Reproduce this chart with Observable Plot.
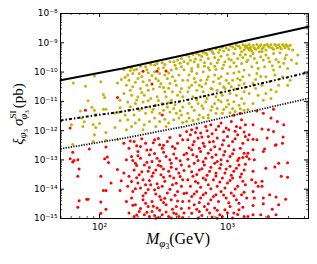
<!DOCTYPE html>
<html><head><meta charset="utf-8">
<script src="https://cdn.jsdelivr.net/npm/d3@7"></script>
<script src="https://cdn.jsdelivr.net/npm/@observablehq/plot@0.6"></script>
<style>body{margin:0;background:#fff}</style>
</head><body><div id="chart"></div>
<script>
// Points stored as [log10 M (GeV), log10 sigma (pb)]
const yellowPts = [
[1.795,-10.37],[1.89,-10.48],[1.96,-10.13],[2.01,-10.33],[2.14,-10.37],[2.17,-10.25],[2.03,-10.77],[2.04,-10.87],[2.16,-10.96],[1.91,-10.98],[2.16,-11.22],[1.94,-11.2],[1.85,-11.33],[1.96,-11.3],[2.03,-11.27],[2.05,-11.27],[1.97,-11.44],[2.15,-11.37],[2.12,-11.4],
[1.86,-11.57],[1.88,-11.7],[1.87,-11.86],[1.78,-11.8],[1.95,-11.79],[1.97,-11.89],[2.0,-11.76],[2.05,-12.06],[2.12,-11.89],[2.16,-11.65],[1.96,-12.14],[1.95,-12.37],[2.05,-12.33],[1.79,-12.47],[2.14,-12.3],
[2.19,-9.92],[2.25,-9.85],[2.27,-9.93],[2.32,-9.8],[2.36,-9.82],[2.40,-9.73],[2.43,-9.76],[2.45,-9.71],[2.49,-9.68],[2.51,-9.74],[2.55,-9.65],[2.58,-9.65],[2.61,-9.59],[2.64,-9.54],[2.66,-9.65],
[2.22,-10.1],[2.26,-10.05],[2.31,-10.05],[2.38,-10.02],[2.43,-9.99],[2.47,-10.05],[2.51,-10.1],[2.56,-9.93],[2.6,-9.88],[2.64,-9.82],[2.53,-10.22],[2.57,-10.16],[2.62,-10.1],[2.65,-10.28],
[2.23,-10.28],[2.30,-10.22],[2.34,-10.33],[2.39,-10.28],[2.44,-10.22],[2.48,-10.39],[2.55,-10.39],[2.6,-10.45],[2.64,-10.56],[2.21,-10.45],[2.26,-10.5],[2.32,-10.56],[2.38,-10.62],[2.47,-10.5],[2.51,-10.67],[2.57,-10.67],[2.61,-10.79],[2.65,-10.84],[2.19,-10.73],[2.25,-10.79],[2.3,-10.84],[2.35,-10.79],[2.4,-10.9],[2.45,-10.84],[2.52,-10.84],[2.56,-10.96],[2.62,-11.02],[2.22,-11.02],[2.28,-11.07],[2.34,-11.02],[2.39,-11.19],[2.44,-11.13],[2.49,-11.07],[2.53,-11.19],[2.58,-11.24],[2.65,-11.19],[2.23,-11.3],[2.31,-11.3],[2.36,-11.41],[2.41,-11.36],[2.47,-11.41],[2.55,-11.36],[2.6,-11.41],[2.64,-11.47],[2.27,-11.47],[2.2,-11.47],
[2.68,-9.42],[2.70,-9.48],[2.73,-9.4],[2.76,-9.37],[2.78,-9.42],[2.81,-9.32],[2.83,-9.36],[2.86,-9.25],[2.88,-9.3],[2.91,-9.2],[2.94,-9.24],[2.96,-9.15],[2.99,-9.18],[3.02,-9.1],[3.04,-9.14],[3.07,-9.08],[3.09,-9.12],[3.12,-9.07],[3.14,-9.1],
[2.69,-9.71],[2.74,-9.65],[2.79,-9.59],[2.85,-9.54],[2.9,-9.5],[2.95,-9.46],[3.0,-9.42],[3.05,-9.37],[3.11,-9.31],[3.13,-9.25],
[2.72,-9.88],[2.77,-9.82],[2.82,-9.8],[2.87,-9.71],[2.92,-9.68],[2.98,-9.65],[3.03,-9.59],[3.08,-9.54],[3.12,-9.5],
[2.7,-10.1],[2.76,-10.05],[2.81,-9.99],[2.86,-9.93],[2.91,-9.91],[2.96,-9.88],[3.02,-9.82],[3.07,-9.8],[3.11,-9.71],[3.15,-9.65],
[2.69,-10.28],[2.74,-10.22],[2.79,-10.28],[2.85,-10.16],[2.9,-10.1],[2.95,-10.16],[3.0,-10.05],[3.05,-10.03],[3.09,-9.99],[3.13,-9.93],
[2.72,-10.45],[2.78,-10.45],[2.83,-10.39],[2.89,-10.33],[2.94,-10.39],[2.99,-10.28],[3.04,-10.28],[3.08,-10.22],[3.12,-10.16],
[2.69,-10.67],[2.76,-10.62],[2.81,-10.67],[2.87,-10.56],[2.92,-10.62],[2.98,-10.56],[3.03,-10.5],[3.09,-10.45],[3.13,-10.39],
[2.73,-10.84],[2.79,-10.84],[2.85,-10.79],[2.91,-10.84],[2.96,-10.79],[3.02,-10.73],[3.07,-10.79],[3.13,-10.67],
[2.7,-11.07],[2.77,-11.07],[2.83,-11.01],[2.9,-11.07],[2.95,-11.01],[3.0,-10.96],[3.05,-11.01],[3.11,-10.9],
[2.74,-11.3],[2.81,-11.24],[2.87,-11.3],[2.92,-11.24],[2.99,-11.19],[3.04,-11.24],[3.09,-11.13],[3.13,-11.07],
[2.69,-11.41],[2.78,-11.47],[2.85,-11.47],[2.91,-11.41],[2.96,-11.41],[3.02,-11.39],[3.13,-11.3],
[3.15,-9.1],[3.17,-9.06],[3.18,-9.15],[3.2,-9.08],[3.21,-9.18],[3.23,-9.06],[3.25,-9.12],[3.26,-9.07],[3.28,-9.16],[3.29,-9.08],[3.31,-9.06],[3.32,-9.12],[3.34,-9.07],[3.35,-9.18],[3.37,-9.06],[3.38,-9.1],[3.4,-9.07],[3.41,-9.14],[3.43,-9.06],[3.44,-9.1],[3.46,-9.07],[3.47,-9.12],[3.49,-9.08],[3.22,-9.22],[3.3,-9.25],[3.36,-9.22],[3.42,-9.2],[3.19,-9.28],[3.27,-9.3],
[3.17,-9.25],[3.2,-9.37],[3.25,-9.31],[3.3,-9.42],[3.36,-9.37],[3.41,-9.34],[3.46,-9.42],[3.51,-9.25],
[3.16,-9.59],[3.21,-9.54],[3.28,-9.59],[3.33,-9.65],[3.38,-9.57],[3.45,-9.54],[3.5,-9.59],[3.55,-9.42],
[3.19,-9.82],[3.24,-9.88],[3.29,-9.82],[3.36,-9.93],[3.41,-9.82],[3.47,-9.88],[3.54,-9.71],
[3.17,-10.1],[3.23,-10.05],[3.3,-10.16],[3.37,-10.1],[3.43,-10.16],[3.49,-10.28],
[3.2,-10.39],[3.27,-10.45],[3.33,-10.33],[3.4,-10.45],[3.47,-10.45],
[3.17,-10.73],[3.24,-10.79],[3.3,-10.73],[3.38,-10.67],
[3.28,-10.96],[3.34,-10.9],[3.2,-11.07],[3.16,-11.28],
[2.21,-11.97],[2.25,-11.86],[2.28,-11.74],[2.31,-11.63],[2.35,-11.8],[2.39,-11.69],[2.43,-11.57],[2.47,-11.69],[2.51,-11.61],[2.54,-11.74],[2.58,-11.63],[2.62,-11.57],[2.65,-11.72],[2.22,-11.63],[2.34,-11.97],[2.44,-11.86],[2.52,-11.86],
[2.68,-11.69],[2.7,-11.57],[2.73,-11.65],[2.77,-11.61],[2.81,-11.55],[2.85,-11.57],
[2.2,-10.18],[2.24,-9.95],[2.29,-9.9],[2.33,-10.15],[2.37,-9.92],[2.41,-10.12],[2.46,-9.88],[2.5,-9.85],[2.54,-10.03],[2.59,-9.77],[2.63,-9.7],[2.66,-9.92],
[2.24,-10.62],[2.28,-10.35],[2.33,-10.7],[2.37,-10.45],[2.42,-10.58],[2.46,-10.3],[2.5,-10.53],[2.54,-10.55],[2.59,-10.3],[2.63,-10.68],
[2.24,-11.18],[2.29,-10.95],[2.33,-11.25],[2.38,-10.98],[2.42,-11.27],[2.46,-10.97],[2.5,-11.3],[2.54,-11.05],[2.59,-11.12],[2.63,-11.32],
[2.71,-9.6],[2.75,-9.55],[2.8,-9.47],[2.84,-9.4],[2.89,-9.37],[2.93,-9.33],[2.97,-9.28],[3.01,-9.24],[3.06,-9.2],[3.1,-9.18],[3.14,-9.16],
[2.72,-9.97],[2.77,-9.75],[2.82,-9.68],[2.85,-9.85],[2.9,-9.8],[2.93,-9.58],[2.97,-9.76],[3.01,-9.55],[3.05,-9.68],[3.1,-9.42],[3.14,-9.4],
[2.7,-10.53],[2.75,-10.35],[2.8,-10.5],[2.84,-10.25],[2.88,-10.58],[2.93,-10.22],[2.97,-10.5],[3.01,-10.38],[3.06,-10.58],[3.1,-10.27],[3.14,-10.53],
[2.72,-11.19],[2.76,-10.95],[2.8,-11.15],[2.84,-10.9],[2.88,-11.18],[2.93,-10.95],[2.97,-11.28],[3.01,-11.1],[3.06,-11.35],[3.1,-11.25],
[3.16,-9.18],[3.18,-9.22],[3.24,-9.17],[3.27,-9.2],[3.33,-9.15],[3.39,-9.18],[3.45,-9.17],[3.48,-9.2],[3.18,-9.45],[3.23,-9.68],[3.26,-9.48],[3.32,-9.52],[3.35,-9.78],[3.4,-9.66],[3.44,-9.7],[3.22,-10.25],[3.26,-10.15],[3.34,-10.6],[3.22,-10.55]
];
const redPts = [
[2.14,-10.87],[1.89,-11.3],[2.34,-9.97],[2.45,-9.97],[2.52,-9.96],[2.41,-10.41],[2.49,-11.47],[3.05,-11.47],[3.1,-11.41],[3.23,-11.33],[3.28,-11.41],[3.36,-11.27],
[1.77,-11.91],[1.79,-12.74],[1.92,-12.63],[2.05,-12.56],[1.77,-12.96],[1.8,-13.02],[1.79,-13.07],[1.83,-12.99],[2.04,-12.96],[2.06,-12.9],[2.07,-13.09],[1.84,-13.31],[2.14,-13.33],[1.83,-13.56],[2.01,-13.56],[2.17,-13.71],[2.09,-13.79],[2.03,-14.04],[2.05,-14.04],[2.16,-14.04],[1.9,-14.34],[1.91,-14.34],[1.84,-14.39],[2.01,-14.44],[1.83,-14.62],[2.05,-14.68],[2.01,-14.82],
[2.19,-12.43],[2.23,-12.6],[2.27,-12.37],[2.3,-12.71],[2.32,-12.54],[2.36,-12.43],[2.4,-12.65],[2.43,-12.31],[2.47,-12.48],[2.49,-12.6],[2.53,-12.37],[2.57,-12.54],[2.61,-12.43],[2.65,-12.31],
[2.21,-12.99],[2.25,-12.88],[2.28,-13.11],[2.32,-12.94],[2.35,-13.17],[2.39,-12.82],[2.41,-13.05],[2.45,-12.94],[2.48,-13.22],[2.52,-12.88],[2.56,-13.11],[2.6,-12.94],[2.64,-13.17],[2.66,-12.82],
[2.19,-13.45],[2.23,-13.56],[2.27,-13.34],[2.31,-13.51],[2.34,-13.68],[2.38,-13.39],[2.41,-13.56],[2.44,-13.34],[2.48,-13.51],[2.51,-13.73],[2.54,-13.39],[2.58,-13.62],[2.62,-13.45],[2.65,-13.68],
[2.22,-13.9],[2.26,-14.08],[2.3,-13.79],[2.32,-13.96],[2.36,-14.13],[2.4,-13.85],[2.43,-14.02],[2.47,-14.25],[2.49,-13.9],[2.53,-14.13],[2.57,-13.85],[2.61,-14.08],[2.64,-13.9],
[2.21,-14.42],[2.25,-14.3],[2.28,-14.53],[2.34,-14.36],[2.38,-14.59],[2.41,-14.42],[2.45,-14.64],[2.48,-14.36],[2.52,-14.53],[2.56,-14.36],[2.6,-14.59],[2.65,-14.42],
[2.23,-14.81],[2.27,-14.93],[2.31,-14.76],[2.35,-14.87],[2.39,-14.93],[2.41,-14.76],[2.44,-14.99],[2.49,-14.87],[2.54,-14.93],[2.58,-14.81],[2.62,-14.93],[2.66,-14.81],
[2.68,-12.03],[2.72,-11.97],[2.76,-11.91],[2.79,-12.08],[2.83,-11.86],[2.87,-11.8],[2.91,-11.97],[2.95,-11.74],[2.99,-11.91],[3.03,-11.69],[3.07,-11.86],[3.11,-11.63],[3.14,-11.8],
[2.69,-12.31],[2.73,-12.48],[2.77,-12.25],[2.81,-12.43],[2.85,-12.2],[2.89,-12.37],[2.92,-12.25],[2.96,-12.48],[3.0,-12.2],[3.04,-12.37],[3.08,-12.14],[3.12,-12.43],
[2.68,-12.77],[2.72,-12.65],[2.76,-12.88],[2.79,-12.71],[2.83,-12.94],[2.87,-12.65],[2.91,-12.82],[2.95,-12.99],[2.98,-12.71],[3.02,-12.88],[3.05,-12.65],[3.09,-12.94],[3.13,-12.77],
[2.7,-13.22],[2.74,-13.11],[2.78,-13.34],[2.82,-13.17],[2.86,-13.39],[2.9,-13.11],[2.94,-13.28],[2.98,-13.45],[3.02,-13.22],[3.05,-13.39],[3.09,-13.17],[3.13,-13.34],
[2.69,-13.68],[2.73,-13.56],[2.77,-13.79],[2.81,-13.62],[2.85,-13.85],[2.89,-13.68],[2.92,-13.9],[2.96,-13.62],[3.0,-13.79],[3.04,-13.62],[3.08,-13.9],[3.12,-13.73],
[2.68,-14.13],[2.72,-14.25],[2.76,-14.08],[2.79,-14.3],[2.83,-14.13],[2.87,-14.36],[2.91,-14.19],[2.95,-14.08],[2.99,-14.3],[3.03,-14.13],[3.07,-14.36],[3.11,-14.19],[3.15,-14.3],
[2.7,-14.64],[2.74,-14.53],[2.78,-14.76],[2.82,-14.59],[2.86,-14.81],[2.9,-14.64],[2.94,-14.87],[2.98,-14.7],[3.02,-14.59],[3.05,-14.81],[3.09,-14.7],[3.13,-14.93],[2.77,-14.99],[2.92,-14.99],
[3.34,-11.57],[3.39,-11.69],[3.44,-11.8],[3.2,-11.8],[3.27,-11.94],[3.32,-11.97],[3.36,-12.03],[3.17,-12.14],[3.23,-12.31],[3.2,-12.29],[3.16,-12.31],[3.31,-12.25],[3.43,-12.43],[3.38,-12.48],[3.2,-12.65],[3.28,-12.71],[3.16,-12.77],[3.29,-12.63],[3.17,-12.97],[3.21,-12.99],[3.15,-12.88],[3.4,-13.11],[3.47,-13.1],[3.3,-13.28],[3.37,-13.24],[3.2,-13.39],[3.42,-13.56],[3.47,-13.59],[3.19,-13.68],[3.27,-13.73],[3.22,-13.77],[3.24,-13.9],[3.27,-13.9],[3.2,-14.08],[3.33,-14.19],[3.21,-14.3],[3.28,-14.3],[3.38,-14.27],[3.455,-14.34],[3.35,-14.68],[3.2,-14.56],[3.28,-14.5],[3.4,-14.53],[3.2,-14.87],[3.26,-14.87],[3.32,-14.93],[3.38,-14.87],[3.16,-14.93],[3.375,-12.5],[3.435,-12.22],
[2.24,-12.35],[2.29,-12.52],[2.33,-12.28],[2.37,-12.66],[2.42,-12.41],[2.46,-12.27],[2.5,-12.5],[2.55,-12.23],[2.59,-12.61],[2.63,-12.17],
[2.26,-13.02],[2.3,-12.86],[2.37,-13.08],[2.43,-12.78],[2.47,-13.04],[2.5,-12.74],[2.55,-12.99],[2.58,-12.8],[2.63,-13.03],
[2.29,-13.19],[2.33,-13.4],[2.39,-13.26],[2.42,-13.45],[2.46,-13.18],[2.5,-13.31],[2.56,-13.25],[2.6,-13.31],[2.66,-13.36],
[2.25,-13.74],[2.29,-13.61],[2.36,-13.85],[2.39,-13.7],[2.45,-13.81],[2.5,-13.59],[2.55,-13.55],[2.6,-13.8],[2.63,-13.57],
[2.28,-13.98],[2.34,-14.22],[2.38,-14.01],[2.44,-14.16],[2.46,-13.95],[2.51,-14.31],[2.55,-14.0],[2.59,-14.21],[2.66,-14.15],
[2.26,-14.55],[2.32,-14.66],[2.36,-14.48],[2.42,-14.58],[2.47,-14.72],[2.5,-14.45],[2.57,-14.68],[2.61,-14.4],[2.64,-14.66],
[2.29,-14.88],[2.37,-14.79],[2.43,-14.9],[2.46,-14.97],[2.52,-14.78],[2.56,-14.98],[2.6,-14.85],[2.65,-14.97],
[2.71,-12.14],[2.75,-12.06],[2.8,-12.22],[2.84,-12.0],[2.88,-12.11],[2.93,-11.85],[2.97,-12.04],[3.01,-11.97],[3.06,-12.02],[3.1,-11.9],[3.13,-12.05],
[2.7,-12.58],[2.74,-12.37],[2.78,-12.6],[2.82,-12.53],[2.86,-12.39],[2.9,-12.55],[2.94,-12.63],[2.97,-12.33],[3.01,-12.52],[3.06,-12.28],[3.1,-12.6],[3.14,-12.2],
[2.69,-12.98],[2.73,-12.82],[2.77,-13.02],[2.81,-13.06],[2.85,-12.77],[2.88,-12.91],[2.92,-13.05],[2.97,-12.83],[3.0,-13.04],[3.04,-12.79],[3.08,-13.02],[3.12,-12.92],
[2.72,-13.4],[2.76,-13.5],[2.8,-13.3],[2.84,-13.52],[2.87,-13.25],[2.91,-13.45],[2.95,-13.16],[2.99,-13.31],[3.03,-13.52],[3.07,-13.28],[3.11,-13.48],[3.14,-13.15],
[2.71,-13.9],[2.75,-13.74],[2.79,-13.93],[2.83,-13.68],[2.87,-13.98],[2.91,-13.55],[2.94,-13.75],[2.98,-13.96],[3.02,-13.7],[3.06,-13.99],[3.1,-13.58],[3.14,-13.85],
[2.7,-14.4],[2.74,-14.16],[2.78,-14.45],[2.81,-14.19],[2.85,-14.5],[2.89,-14.25],[2.93,-14.42],[2.97,-14.2],[3.01,-14.46],[3.05,-14.22],[3.09,-14.48],[3.13,-14.1],
[2.72,-14.82],[2.76,-14.68],[2.8,-14.9],[2.84,-14.7],[2.88,-14.95],[2.92,-14.72],[2.96,-14.93],[3.0,-14.8],[3.04,-14.98],[3.08,-14.86],[3.12,-14.62]
];
// Limit curves [M (GeV), sigma (pb)]
const solidLine = [[49.5,5.3e-11],[151,1.33e-10],[461,3.84e-10],[1406,1.2e-9],[4295,3.52e-9]];
const dashDotLine = [[49.5,2.24e-12],[151,4.5e-12],[461,1.07e-11],[1406,3.1e-11],[4295,9.8e-11]];
const dottedLine = [[49.5,2.4e-13],[151,5.4e-13],[461,1.38e-12],[4295,1.26e-11]];

const xDomain = [49.5, 4300];
const yDomain = [1e-15, 1e-8];
const xMajor = [100, 1000];
const yMajor = [1e-15,1e-14,1e-13,1e-12,1e-11,1e-10,1e-9,1e-8];
const xMinor = [50,60,70,80,90,200,300,400,500,600,700,800,900,2000,3000,4000];
const yMinor = [];
for (let e = -15; e < -8; e++) for (let m = 2; m <= 9; m++) yMinor.push(m * Math.pow(10, e));

const sup = {"-":"\u207B","0":"\u2070","1":"\u00B9","2":"\u00B2","3":"\u00B3","4":"\u2074","5":"\u2075","6":"\u2076","7":"\u2077","8":"\u2078","9":"\u2079"};
const fmt = d => "10" + String(Math.round(Math.log10(d))).split("").map(c => sup[c]).join("");

const W = 317, H = 264, mL = 60, mR = 9, mT = 13, mB = 46;
const pw = W - mL - mR, ph = H - mT - mB;

const svg = Plot.plot({
  width: W, height: H,
  marginLeft: mL, marginRight: mR, marginTop: mT, marginBottom: mB,
  style: {fontFamily: "DejaVu Sans", fontSize: "9px", background: "#fff", color: "#000"},
  x: {type: "log", domain: xDomain, axis: null},
  y: {type: "log", domain: yDomain, axis: null},
  marks: [
    Plot.dot(yellowPts, {x: d => 10 ** d[0], y: d => 10 ** d[1], r: 1.5, fill: "#c4b400", stroke: "none"}),
    Plot.dot(redPts, {x: d => 10 ** d[0], y: d => 10 ** d[1], r: 1.5, fill: "#ff0000", stroke: "none"}),
    Plot.line(solidLine, {x: d => d[0], y: d => d[1], stroke: "#000", strokeWidth: 2}),
    Plot.line(dashDotLine, {x: d => d[0], y: d => d[1], stroke: "#000", strokeWidth: 2, strokeLinecap: "butt", strokeDasharray: "3,2,1.5,2"}),
    Plot.line(dottedLine, {x: d => d[0], y: d => d[1], stroke: "#111", strokeWidth: 1.8, strokeLinecap: "butt", strokeDasharray: "1.3,1.3"}),
    Plot.tickY(yMajor.slice(1, -1), {y: d => d, insetRight: pw - 4, stroke: "#000"}),
    Plot.tickY(yMajor.slice(1, -1), {y: d => d, insetLeft: pw - 4, stroke: "#000"}),
    Plot.tickY(yMinor, {y: d => d, insetRight: pw - 2, stroke: "#000", strokeWidth: 0.7}),
    Plot.tickY(yMinor, {y: d => d, insetLeft: pw - 2, stroke: "#000", strokeWidth: 0.7}),
    Plot.tickX(xMajor, {x: d => d, insetTop: ph - 4, stroke: "#000"}),
    Plot.tickX(xMajor, {x: d => d, insetBottom: ph - 4, stroke: "#000"}),
    Plot.tickX(xMinor, {x: d => d, insetTop: ph - 2, stroke: "#000", strokeWidth: 0.7}),
    Plot.tickX(xMinor, {x: d => d, insetBottom: ph - 2, stroke: "#000", strokeWidth: 0.7}),
    Plot.frame({stroke: "#000", strokeWidth: 1}),
    Plot.axisY(yMajor, {anchor: "left", tickSize: 0, tickPadding: 3, tickFormat: fmt, label: null, fontSize: 9}),
    Plot.axisX(xMajor, {anchor: "bottom", tickSize: 0, tickPadding: 5, tickFormat: fmt, label: null, fontSize: 9})
  ]
});

const s = d3.select(svg);
const xl = s.append("text")
  .attr("x", 178).attr("y", 244)
  .attr("text-anchor", "middle")
  .attr("font-family", "Liberation Serif, DejaVu Serif, serif")
  .attr("font-size", 16).attr("fill", "#000");
xl.append("tspan").attr("font-style", "italic").text("M");
xl.append("tspan").attr("font-style", "italic").attr("font-size", 11).attr("dy", 3).text("\u03C6");
xl.append("tspan").attr("font-size", 7.5).attr("dy", 2).text("3");
xl.append("tspan").attr("dy", -5).text("(GeV)");

const yl = s.append("text")
  .attr("transform", "translate(23,114) rotate(-90)")
  .attr("text-anchor", "middle")
  .attr("font-family", "Liberation Serif, DejaVu Serif, serif")
  .attr("font-size", 15).attr("fill", "#000");
yl.append("tspan").attr("font-style", "italic").text("\u03BE");
yl.append("tspan").attr("font-style", "italic").attr("font-size", 10.5).attr("dy", 3).text("\u03C6");
yl.append("tspan").attr("font-size", 7).attr("dy", 2).text("3");
yl.append("tspan").attr("font-style", "italic").attr("dy", -5).attr("dx", 3).text("\u03C3");
yl.append("tspan").attr("font-size", 9).attr("dy", -7).text("SI");
yl.append("tspan").attr("font-style", "italic").attr("font-size", 10.5).attr("dx", -9).attr("dy", 11).text("\u03C6");
yl.append("tspan").attr("font-size", 7).attr("dy", 2).text("3");
yl.append("tspan").attr("dy", -6).attr("dx", 2).text("(pb)");

document.getElementById("chart").appendChild(svg);
</script>
</body></html>
